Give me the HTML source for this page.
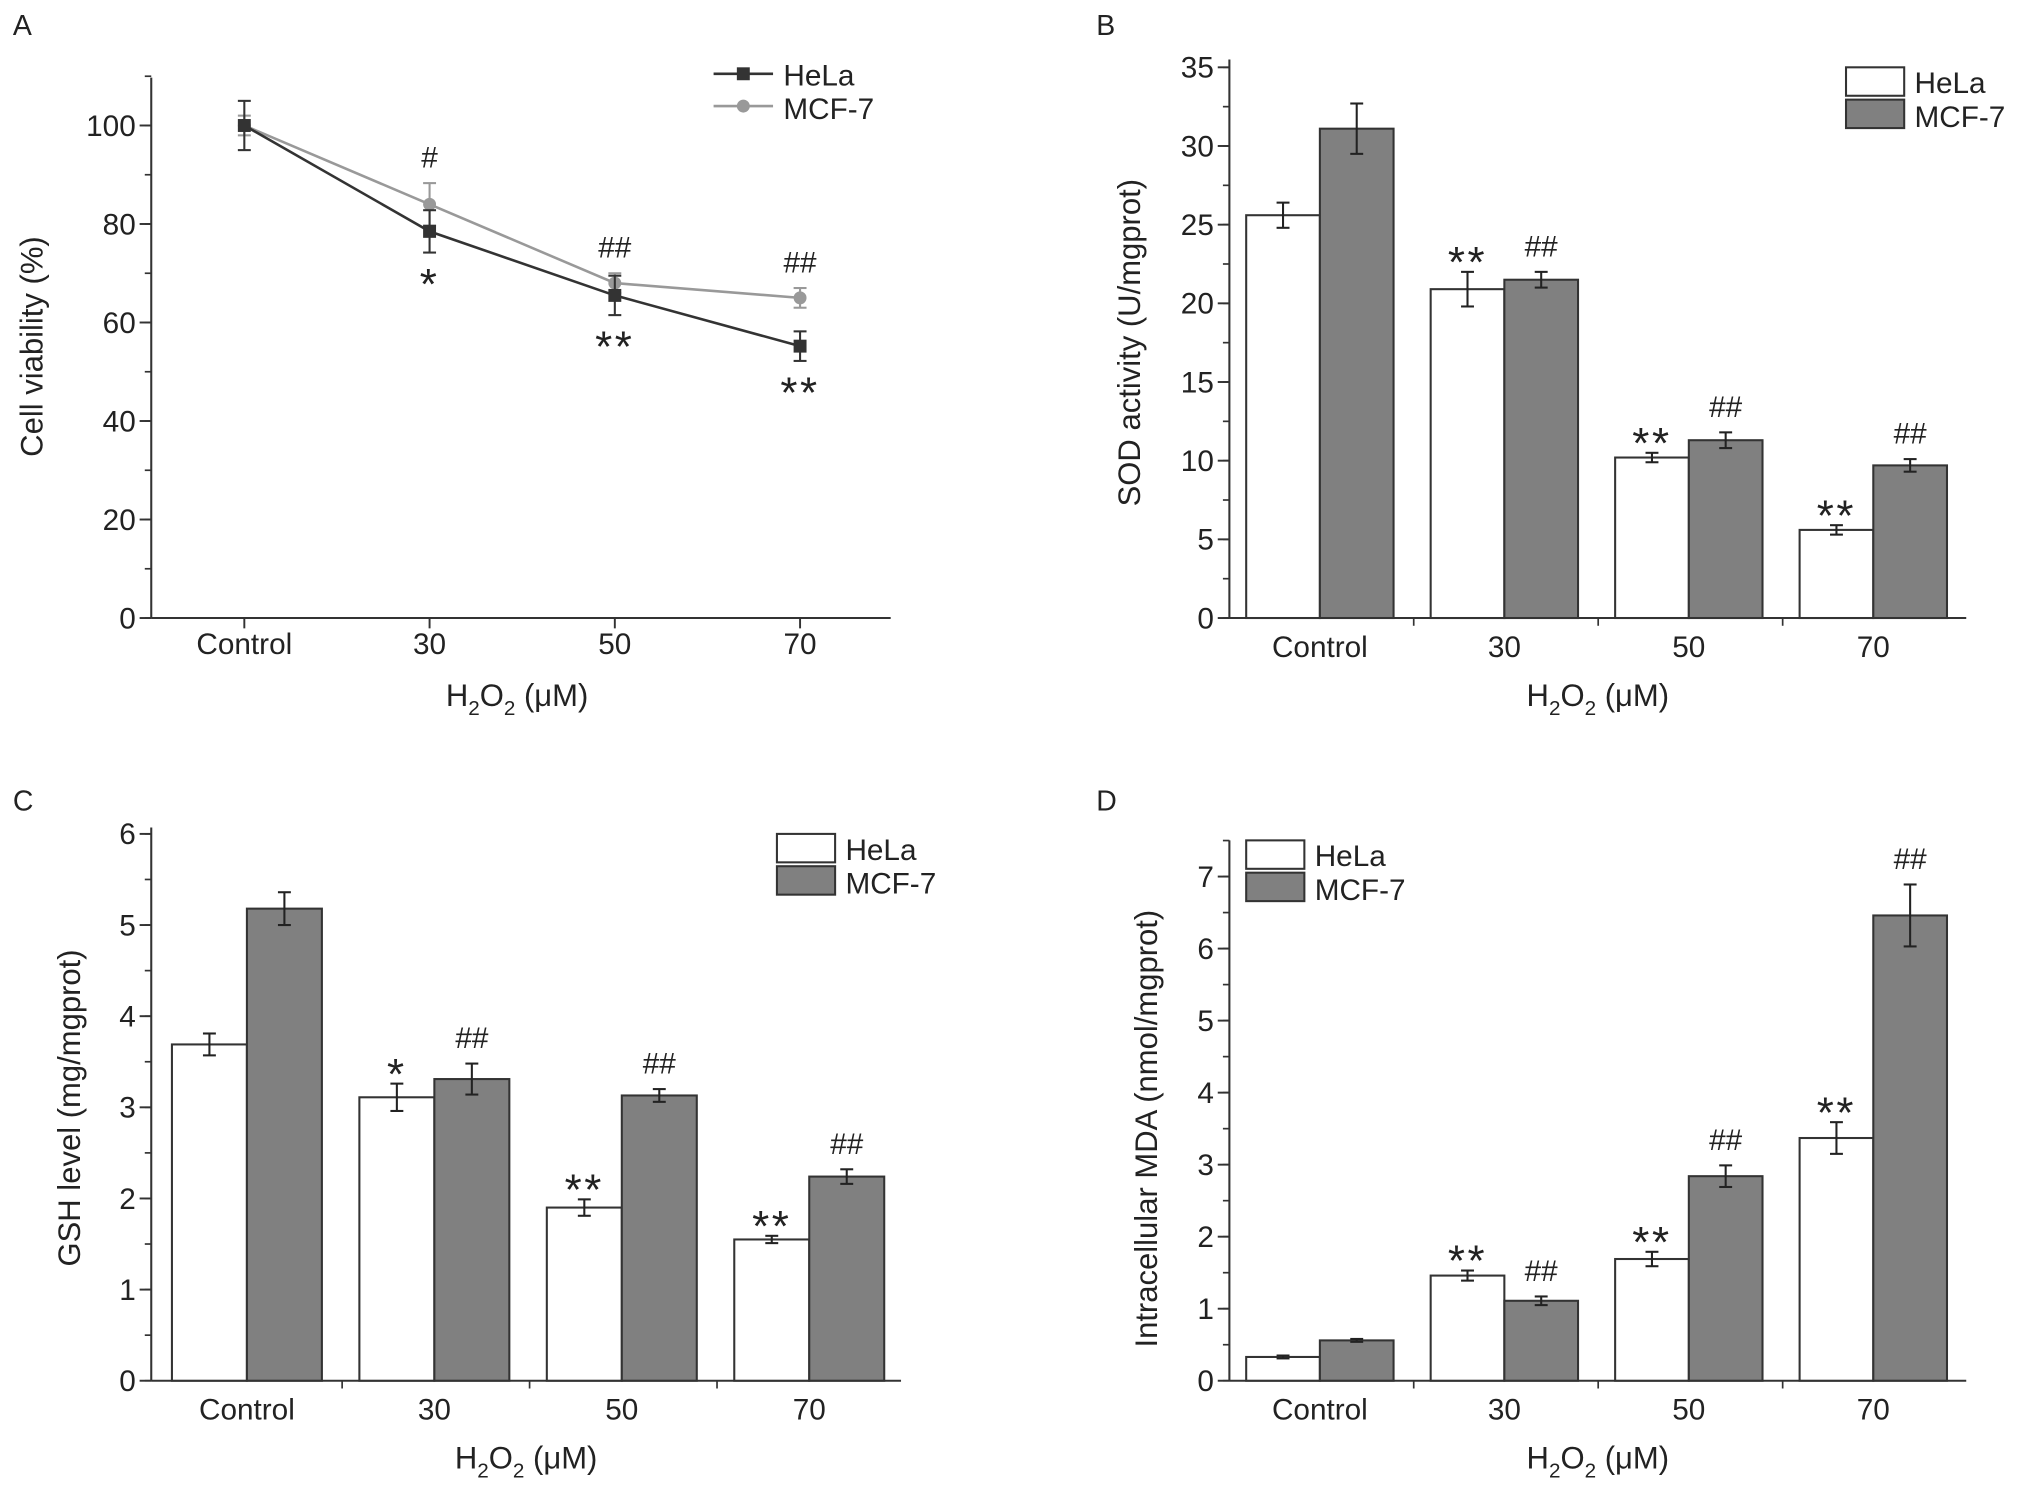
<!DOCTYPE html>
<html><head><meta charset="utf-8"><style>
html,body{margin:0;padding:0;background:#fff;}
svg{display:block;font-family:"Liberation Sans Narrow","Liberation Sans",sans-serif;}
</style></head><body>
<svg id="fig" width="2027" height="1492" viewBox="0 0 1568 1154" xmlns="http://www.w3.org/2000/svg"></svg>
<script>
const categories = ["Control","30","50","70"];
// Panel A
const aHela = [100, 78.5, 65.5, 55.2];
const aHelaErr = [5, 4.3, 4, 3];
const aMcf = [100, 84, 68, 65];
const aMcfErr = [2, 4.3, 2, 2];
const aTicks = [0,20,40,60,80,100];
const aAnnotHela = ["", "*", "**", "**"];
const aAnnotMcf = ["", "#", "##", "##"];
// Panel B
const bHela = [25.6, 20.9, 10.2, 5.6];
const bHelaErr = [0.8, 1.1, 0.3, 0.3];
const bMcf = [31.1, 21.5, 11.3, 9.7];
const bMcfErr = [1.6, 0.5, 0.5, 0.4];
const bTicks = [0,5,10,15,20,25,30,35];
// Panel C
const cHela = [3.69, 3.11, 1.9, 1.55];
const cHelaErr = [0.12, 0.15, 0.09, 0.04];
const cMcf = [5.18, 3.31, 3.13, 2.24];
const cMcfErr = [0.18, 0.17, 0.07, 0.08];
const cTicks = [0,1,2,3,4,5,6];
const cAnnotHela = ["", "*", "**", "**"];
// Panel D
const dHela = [0.33, 1.46, 1.69, 3.37];
const dHelaErr = [0.02, 0.07, 0.1, 0.22];
const dMcf = [0.56, 1.11, 2.84, 6.46];
const dMcfErr = [0.02, 0.06, 0.15, 0.43];
const dTicks = [0,1,2,3,4,5,6,7];
const barAnnotHela = ["", "**", "**", "**"];
const barAnnotMcf = ["", "##", "##", "##"];

const svg = document.getElementById('fig');
const NS = "http://www.w3.org/2000/svg";
const FS = 23, FT = 24;
function el(tag, attrs, parent, text){
  const e = document.createElementNS(NS, tag);
  for (const k in attrs) e.setAttribute(k, attrs[k]);
  if (text !== undefined) e.textContent = text;
  (parent||svg).appendChild(e);
  return e;
}
const AX = "#333";
function xTitle(g, cx, y){
  const t = el('text', {x:cx, y:y, 'font-size':FT, 'text-anchor':'middle', fill:'#222'}, g);
  
  
  el('tspan',{},t,'H');
  el('tspan',{'font-size':16,dy:7},t,'2');
  el('tspan',{dy:-7},t,'O');
  el('tspan',{'font-size':16,dy:7},t,'2');
  el('tspan',{dy:-7},t,' (\u03bcM)');
}
function yAxis(g, x, y0, yTop, scale, ticks, minorStep, maxV){
  const a = el('line',{x1:x,y1:y0,x2:x,y2:yTop,stroke:AX,'stroke-width':1.6},g);
  
  
  for (let v=0; v<=maxV+1e-9; v+=minorStep){
    el('line',{x1:x-5,y1:scale(v),x2:x,y2:scale(v),stroke:AX,'stroke-width':1.3},g);
  }
  ticks.forEach(v=>{
    el('line',{x1:x-9,y1:scale(v),x2:x,y2:scale(v),stroke:AX,'stroke-width':1.5},g);
    const t = el('text',{x:x-12,y:scale(v)+8,'font-size':FS,'text-anchor':'end',fill:'#222'},g,String(v));
    
    
  });
}
function yTitle(g, x, y, txt){
  const t = el('text',{x:x,y:y,'font-size':FT,'text-anchor':'middle',fill:'#222',transform:`rotate(-90 ${x} ${y})`},g,txt);
  
  
}
function label(x,y,txt){
  const t = el('text',{x:x,y:y,'font-size':22,fill:'#222'},svg,txt);
  
  
}
function errBar(g, x, yv, ye, scale, color){
  el('line',{x1:x,y1:scale(yv-ye),x2:x,y2:scale(yv+ye),stroke:color,'stroke-width':1.6},g);
  el('line',{x1:x-5,y1:scale(yv-ye),x2:x+5,y2:scale(yv-ye),stroke:color,'stroke-width':1.6},g);
  el('line',{x1:x-5,y1:scale(yv+ye),x2:x+5,y2:scale(yv+ye),stroke:color,'stroke-width':1.6},g);
}
function annot(g, x, y, txt){
  if (!txt) return;
  const isStar = txt.indexOf('*')>=0;
  const t = el('text',{x:x,y:isStar?y+16:y,'font-size':isStar?34:23,'text-anchor':'middle',fill:'#222','letter-spacing':isStar?2:0},g,txt);
  
  
}

// ===== Panel A =====
(function(){
  const g = el('g',{});  
  const x0=117, y0=478, yTop=60;
  const s = v => y0 - v*(478-97)/100;
  const cx = i => 189 + i*143.3;
  label(10,27,'A');
  yAxis(g,x0,y0,yTop,s,aTicks,10,110);
  el('line',{x1:x0,y1:y0,x2:689,y2:y0,stroke:AX,'stroke-width':1.6},g);
  categories.forEach((c,i)=>{
    el('line',{x1:cx(i),y1:y0,x2:cx(i),y2:y0+8,stroke:AX,'stroke-width':1.5},g);
    const t=el('text',{x:cx(i),y:y0+28,'font-size':FS,'text-anchor':'middle',fill:'#222'},g,c);
     
  });
  const series = [[aMcf,aMcfErr,'#999','circle','mcf7'],[aHela,aHelaErr,'#333','square','hela']];
  series.forEach(([vals,errs,col,mk,nm])=>{
    const p = el('polyline',{points:vals.map((v,i)=>cx(i)+','+s(v)).join(' '),fill:'none',stroke:col,'stroke-width':2},g);
     
    vals.forEach((v,i)=>{
      errBar(g,cx(i),v,errs[i],s,col);
      let m;
      if (mk==='circle') m=el('circle',{cx:cx(i),cy:s(v),r:5,fill:col},g);
      else m=el('rect',{x:cx(i)-5,y:s(v)-5,width:10,height:10,fill:col},g);
       
    });
  });
  aAnnotMcf.forEach((a,i)=>annot(g,cx(i),s(aMcf[i]+aMcfErr[i])-12,a));
  aAnnotHela.forEach((a,i)=>annot(g,cx(i),s(aHela[i]-aHelaErr[i])+20,a));
  const lg = el('g',{},g);  
  el('line',{x1:552,y1:57,x2:598,y2:57,stroke:'#333','stroke-width':2},lg);
  el('rect',{x:570,y:52,width:10,height:10,fill:'#333'},lg);
  el('text',{x:606,y:66,'font-size':FS,fill:'#222'},lg,'HeLa');
  el('line',{x1:552,y1:82,x2:598,y2:82,stroke:'#999','stroke-width':2},lg);
  el('circle',{cx:575,cy:82,r:5,fill:'#999'},lg);
  el('text',{x:606,y:92,'font-size':FS,fill:'#222'},lg,'MCF-7');
  yTitle(g,33,268,'Cell viability (%)');
  xTitle(g,400,546);
})();

function barPanel(opt){
  const g = el('g',{});  
  const {x0,y0,xEnd,yTop,pxPer,maxV,minor,ticks,hela,helaE,mcf,mcfE,annH,annM,start,gw,bw} = opt;
  const s = v => y0 - v*pxPer;
  label(opt.lx,opt.ly,opt.letter);
  el('line',{x1:x0,y1:y0,x2:xEnd,y2:y0,stroke:AX,'stroke-width':1.6},g);
  categories.forEach((c,i)=>{
    const gx = start + i*gw;
    if (i>0) el('line',{x1:gx-bw*0.23,y1:y0,x2:gx-bw*0.23,y2:y0+6,stroke:AX,'stroke-width':1.3},g);
    const cx = gx+bw;
    const t=el('text',{x:cx,y:y0+30,'font-size':FS,'text-anchor':'middle',fill:'#222'},g,c);
     
    const b1=el('rect',{x:gx,y:s(hela[i]),width:bw,height:hela[i]*pxPer,fill:'#fff',stroke:'#333','stroke-width':1.6},g);
     
    const b2=el('rect',{x:gx+bw,y:s(mcf[i]),width:bw,height:mcf[i]*pxPer,fill:'#808080',stroke:'#333','stroke-width':1.6},g);
     
    errBar(g,gx+bw/2,hela[i],helaE[i],s,'#222');
    errBar(g,gx+bw*1.5,mcf[i],mcfE[i],s,'#222');
    annot(g,gx+bw/2,s(hela[i]+helaE[i])-12,annH[i]);
    annot(g,gx+bw*1.5,s(mcf[i]+mcfE[i])-12,annM[i]);
  });
  yAxis(g,x0,y0,yTop,s,ticks,minor,maxV);
  const lg = el('g',{},g);  
  el('rect',{x:opt.legX,y:opt.legY,width:45,height:22,fill:'#fff',stroke:'#333','stroke-width':1.6},lg);
  el('rect',{x:opt.legX,y:opt.legY+25,width:45,height:22,fill:'#808080',stroke:'#333','stroke-width':1.6},lg);
  el('text',{x:opt.legX+53,y:opt.legY+20,'font-size':FS,fill:'#222'},lg,'HeLa');
  el('text',{x:opt.legX+53,y:opt.legY+46,'font-size':FS,fill:'#222'},lg,'MCF-7');
  yTitle(g,opt.ytx,opt.yty,opt.ytitle);
  xTitle(g,(x0+xEnd)/2,y0+68);
}

barPanel({name:'panel-b-sod-chart',letter:'B',lx:848,ly:27,x0:951,y0:478,xEnd:1521,yTop:46,pxPer:(478-52)/35,maxV:35,minor:2.5,ticks:bTicks,
  hela:bHela,helaE:bHelaErr,mcf:bMcf,mcfE:bMcfErr,annH:barAnnotHela,annM:barAnnotMcf,start:964,gw:142.7,bw:57,
  legX:1428,legY:52,ytx:882,yty:265,ytitle:'SOD activity (U/mgprot)'});
barPanel({name:'panel-c-gsh-chart',letter:'C',lx:10,ly:627,x0:117,y0:1068,xEnd:697,yTop:640,pxPer:(1068-645)/6,maxV:6,minor:0.5,ticks:cTicks,
  hela:cHela,helaE:cHelaErr,mcf:cMcf,mcfE:cMcfErr,annH:cAnnotHela,annM:barAnnotMcf,start:133,gw:145,bw:58,
  legX:601,legY:645,ytx:62,yty:857,ytitle:'GSH level (mg/mgprot)'});
barPanel({name:'panel-d-mda-chart',letter:'D',lx:848,ly:627,x0:951,y0:1068,xEnd:1521,yTop:650,pxPer:(1068-678)/7,maxV:7.5,minor:0.5,ticks:dTicks,
  hela:dHela,helaE:dHelaErr,mcf:dMcf,mcfE:dMcfErr,annH:barAnnotHela,annM:barAnnotMcf,start:964,gw:142.7,bw:57,
  legX:964,legY:650,ytx:895,yty:873,ytitle:'Intracellular MDA (nmol/mgprot)'});
</script>
</body></html>
